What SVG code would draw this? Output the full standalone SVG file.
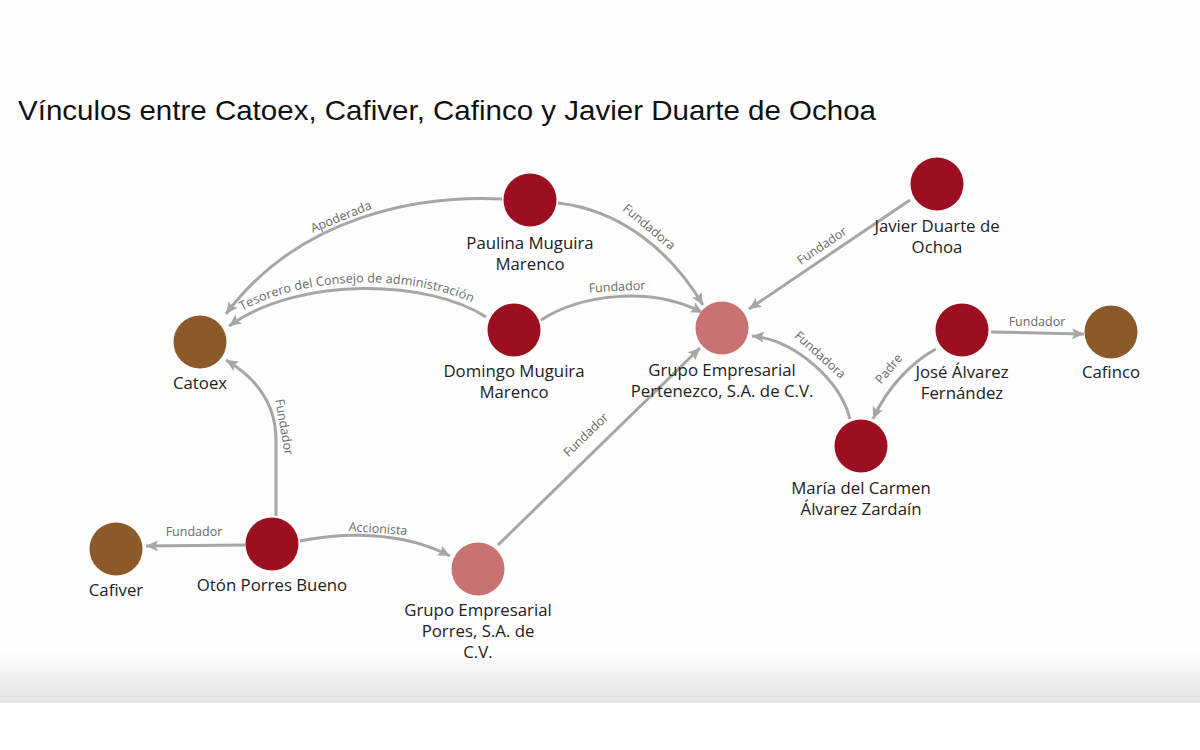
<svg xmlns="http://www.w3.org/2000/svg" width="1200" height="750" viewBox="0 0 1200 750">
<style>
.title{font-family:"Liberation Sans",Arial,sans-serif;font-size:28.5px;fill:#111}
.nl{font-family:"Open Sans","Noto Sans",sans-serif;font-size:16.8px;fill:#222;text-anchor:middle}
.el{font-family:"Open Sans","Noto Sans",sans-serif;font-size:12.5px;fill:#6a6a6a;text-anchor:middle}
.e{fill:none;stroke:#a6a6a6;stroke-width:3;marker-end:url(#arr)}
.person{fill:#9c0f20}
.company{fill:#c97272}
.target{fill:#8c5a2a}
</style>
<defs>
<marker id="arr" markerUnits="userSpaceOnUse" markerWidth="13" markerHeight="11" refX="12" refY="5.5" orient="auto" viewBox="0 0 13 11">
<path d="M0,0 L12,5.5 L0,11 L2.5,5.5 z" fill="#a6a6a6"/>
</marker>
<linearGradient id="foot" x1="0" y1="0" x2="0" y2="1">
<stop offset="0" stop-color="#ffffff"/>
<stop offset="1" stop-color="#e3e3e3"/>
</linearGradient>
<path id="p-tes" d="M 229,326 C 300,275 430,280 486,317"/>
</defs>
<rect x="0" y="0" width="1200" height="750" fill="#fdfdfd"/>
<rect x="0" y="648" width="1200" height="55" fill="url(#foot)"/>
<rect x="0" y="703" width="1200" height="47" fill="#ffffff"/>
<text class="title" x="18" y="120" textLength="858" lengthAdjust="spacingAndGlyphs">Vínculos entre Catoex, Cafiver, Cafinco y Javier Duarte de Ochoa</text>

<g id="connectors">
<path class="e" d="M 502,199 C 420,195 300,215 226,314"/>
<text class="el" transform="translate(341,217) rotate(-22)" y="4">Apoderada</text>
<path class="e" d="M 486,317 C 430,280 300,275 229,326"/>
<text class="el" dy="-6"><textPath href="#p-tes" startOffset="50%">Tesorero del Consejo de administración</textPath></text>
<path class="e" d="M 558,203 C 620,210 670,250 703,305"/>
<text class="el" transform="translate(649,227) rotate(40)" y="4">Fundadora</text>
<path class="e" d="M 541,320 C 580,295 650,285 703,313"/>
<text class="el" transform="translate(617,287) rotate(-3)" y="4">Fundador</text>
<path class="e" d="M 910,200 L 749,309"/>
<text class="el" transform="translate(822,246) rotate(-34)" y="4">Fundador</text>
<path class="e" d="M 850,419 C 840,380 795,340 752,336"/>
<text class="el" transform="translate(820,355) rotate(42)" y="4">Fundadora</text>
<path class="e" d="M 936,349 C 915,360 888,385 873,419"/>
<text class="el" transform="translate(889,369) rotate(-50)" y="4">Padre</text>
<path class="e" d="M 991,332 L 1084,334"/>
<text class="el" x="1037" y="326">Fundador</text>
<path class="e" d="M 276,516 L 276,440 Q 276,390 226,360"/>
<text class="el" transform="translate(284,427) rotate(80)" y="4">Fundador</text>
<path class="e" d="M 245,545 L 146,546"/>
<text class="el" x="194" y="536">Fundador</text>
<path class="e" d="M 300,541 C 340,533 400,530 450,556"/>
<text class="el" transform="translate(378,529) rotate(4)" y="4">Accionista</text>
<path class="e" d="M 498,545 L 700,348"/>
<text class="el" transform="translate(586,435) rotate(-44)" y="4">Fundador</text>
</g>

<g id="n-paulina"><circle class="person" cx="530" cy="200" r="26.5"/><text class="nl" x="530" y="249">Paulina Muguira</text><text class="nl" x="530" y="270">Marenco</text></g>
<g id="n-domingo"><circle class="person" cx="514" cy="330" r="26.5"/><text class="nl" x="514" y="377">Domingo Muguira</text><text class="nl" x="514" y="398">Marenco</text></g>
<g id="n-catoex"><circle class="target" cx="200" cy="342" r="26.5"/><text class="nl" x="200" y="389">Catoex</text></g>
<g id="n-pertenezco"><circle class="company" cx="722" cy="328" r="26.5"/><text class="nl" x="722" y="376">Grupo Empresarial</text><text class="nl" x="722" y="397">Pertenezco, S.A. de C.V.</text></g>
<g id="n-javier"><circle class="person" cx="937" cy="184" r="26.5"/><text class="nl" x="937" y="232">Javier Duarte de</text><text class="nl" x="937" y="253">Ochoa</text></g>
<g id="n-jose"><circle class="person" cx="962" cy="330" r="26.5"/><text class="nl" x="962" y="378">José Álvarez</text><text class="nl" x="962" y="399">Fernández</text></g>
<g id="n-cafinco"><circle class="target" cx="1111" cy="332" r="26.5"/><text class="nl" x="1111" y="378">Cafinco</text></g>
<g id="n-maria"><circle class="person" cx="861" cy="446" r="26.5"/><text class="nl" x="861" y="494">María del Carmen</text><text class="nl" x="861" y="515">Álvarez Zardaín</text></g>
<g id="n-oton"><circle class="person" cx="272" cy="544" r="26.5"/><text class="nl" x="272" y="591">Otón Porres Bueno</text></g>
<g id="n-cafiver"><circle class="target" cx="116" cy="549" r="26.5"/><text class="nl" x="116" y="596">Cafiver</text></g>
<g id="n-porres"><circle class="company" cx="478" cy="569" r="26.5"/><text class="nl" x="478" y="616">Grupo Empresarial</text><text class="nl" x="478" y="637">Porres, S.A. de</text><text class="nl" x="478" y="658">C.V.</text></g>
</svg>
